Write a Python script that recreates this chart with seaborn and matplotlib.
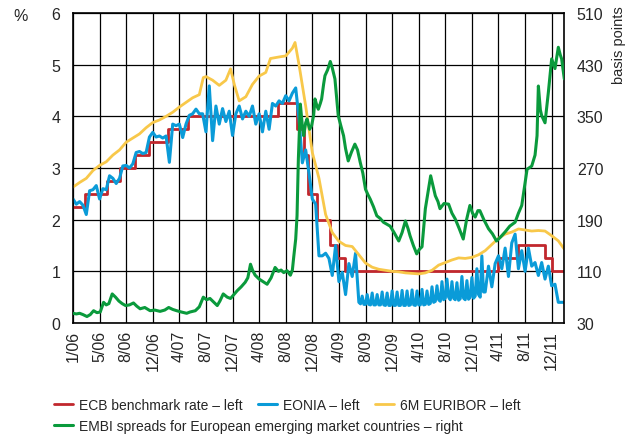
import numpy as np
import pandas as pd
import matplotlib
matplotlib.use("Agg")
import matplotlib.pyplot as plt
import seaborn as sns

# x = months since 1 Jan 2006
tick_labels = ["1/06", "5/06", "8/06", "12/06", "4/07", "8/07", "12/07", "4/08", "8/08",
               "12/08", "4/09", "8/09", "12/09", "4/10", "8/10", "12/10", "4/11", "8/11", "12/11"]

ecb_t = [0, 1.85, 5.1, 7.1, 9.4, 11.5, 14.3, 17.3, 30.8, 33.7, 34.7, 35.4, 36.7,
         38.7, 39.7, 40.9, 63.9, 67.0, 71.0, 72.0, 73.9]
ecb_rate = [2.25, 2.5, 2.75, 3.0, 3.25, 3.5, 3.75, 4.0, 4.25, 3.75, 3.25, 2.5, 2.0,
            1.5, 1.25, 1.0, 1.25, 1.5, 1.25, 1.0, 1.0]

# half-month readings until mid 2009, quarter-month in the low-rate period, then half-month
eonia_t = np.concatenate([np.arange(0, 43, 0.5), np.arange(43, 62, 0.25),
                          np.arange(62, 73.6, 0.5), [73.9]])
eonia = [2.40, 2.30, 2.35, 2.28, 2.10, 2.56, 2.58, 2.66, 2.40, 2.60,
         2.58, 2.85, 2.80, 2.70, 2.80, 3.04, 3.05, 3.00, 3.08, 3.30,
         3.32, 3.28, 3.30, 3.60, 3.69, 3.60, 3.62, 3.58, 3.62, 3.11,
         3.85, 3.82, 3.85, 3.59, 3.85, 4.02, 4.05, 4.14, 4.05, 4.05,
         3.70, 4.59, 3.53, 4.20, 3.85, 4.15, 3.90, 4.10, 3.63, 4.05,
         4.20, 3.95, 4.10, 4.00, 4.20, 3.85, 4.05, 3.70, 4.10, 3.75,
         4.25, 4.20, 4.30, 4.25, 4.40, 4.30, 4.45, 4.55, 3.95, 3.10,
         3.35, 2.90, 2.40, 2.30, 1.30, 1.30, 1.35, 1.25, 0.92, 1.50,
         0.80, 0.98, 0.55, 1.15, 0.90, 1.35,
         0.40, 0.37, 0.52, 0.36, 0.36, 0.55, 0.36, 0.35, 0.58, 0.35,
         0.35, 0.55, 0.35, 0.35, 0.60, 0.35, 0.34, 0.58, 0.34, 0.34,
         0.62, 0.34, 0.34, 0.60, 0.34, 0.34, 0.63, 0.34, 0.34, 0.62,
         0.34, 0.35, 0.64, 0.35, 0.34, 0.62, 0.35, 0.35, 0.65, 0.35,
         0.36, 0.62, 0.36, 0.38, 0.70, 0.40, 0.42, 0.72, 0.45, 0.42,
         0.80, 0.45, 0.48, 0.85, 0.50, 0.45, 0.80, 0.48, 0.45, 0.78,
         0.44, 0.47, 0.90, 0.48, 0.45, 0.82, 0.46, 0.50, 0.88, 0.48,
         0.52, 1.05, 0.55, 0.50, 1.30, 0.60,
         0.60, 1.10, 0.70, 1.15, 1.30, 1.05, 1.45, 0.90, 1.55, 1.72,
         1.05, 1.40, 1.00, 1.45, 1.10, 1.17, 0.92, 1.17, 0.85, 1.10,
         0.72, 0.75, 0.40, 0.40, 0.40]

euribor_t = [0, 1, 2, 3, 4, 5, 6, 7, 8, 9, 10, 11, 12, 13, 14, 15, 16, 17, 18, 19,
             19.6, 20, 21, 22, 23, 23.7, 24.3, 25, 26, 27, 28, 29, 29.7, 31, 32, 33, 33.4,
             34, 35, 36, 37, 38, 39, 40, 41, 42, 43, 44, 45, 46, 47, 48, 49, 50, 51,
             52, 53, 54, 55, 56, 57, 58, 59, 60, 61, 62, 63, 64, 65, 66, 67, 68, 69,
             70, 71, 72, 73, 73.9]
euribor = [2.63, 2.72, 2.80, 2.95, 3.05, 3.12, 3.25, 3.35, 3.50, 3.58, 3.66, 3.78, 3.88,
           3.93, 4.00, 4.08, 4.18, 4.27, 4.36, 4.42, 4.75, 4.77, 4.70, 4.60, 4.70, 4.92,
           4.60, 4.30, 4.38, 4.62, 4.78, 4.85, 5.12, 5.15, 5.17, 5.32, 5.43, 5.00, 4.20,
           3.30, 2.80, 2.10, 1.75, 1.58, 1.50, 1.48, 1.32, 1.16, 1.08, 1.04, 1.02, 1.00,
           0.99, 0.97, 0.96, 0.95, 0.97, 1.02, 1.12, 1.17, 1.22, 1.26, 1.25, 1.27, 1.32,
           1.40, 1.52, 1.64, 1.72, 1.76, 1.82, 1.80, 1.78, 1.79, 1.78, 1.69, 1.59, 1.43]

embi_t = [0, 0.5, 1, 1.5, 2.1, 2.6, 3.1, 3.6, 4.1, 4.6, 5.0, 5.4, 5.9, 6.4, 6.9, 7.4, 7.9,
          8.5, 9.1, 9.6, 10.1, 10.8, 11.6, 12.3, 13.1, 13.8, 14.4, 15.0, 15.6, 16.3, 17.1,
          17.6, 18.4, 19.0, 19.6, 20.1, 20.6, 21.2, 21.7, 22.1, 22.6, 23.2, 23.7, 24.2, 24.7,
          25.3, 25.9, 26.3, 26.7, 27.0, 27.4, 28.0, 28.6, 29.2, 29.8, 30.4, 30.9, 31.3, 31.7,
          32.2, 32.7, 33.0, 33.2, 33.5, 33.7, 33.9, 34.2, 34.5, 34.7, 35.0, 35.2, 35.6, 35.9,
          36.2, 36.4, 36.7, 36.9, 37.2, 37.4, 37.7, 37.9, 38.3, 38.7, 39.0, 39.4, 39.9, 40.3,
          40.7, 41.0, 41.4, 41.9, 42.4, 42.8, 43.2, 43.6, 44.0, 44.4, 44.7, 45.2, 45.7, 46.2,
          46.7, 47.2, 47.7, 48.3, 49.0, 49.5, 50.0, 50.4, 50.7, 51.2, 51.7, 52.1, 52.5, 53.0,
          53.4, 53.8, 54.1, 54.5, 54.9, 55.2, 55.8, 56.5, 57.0, 57.5, 58.1, 58.7, 59.2, 59.7,
          60.1, 60.5, 60.9, 61.2, 61.8, 62.5, 63.1, 63.7, 64.3, 65.0, 65.7, 66.5, 67.0, 67.5,
          67.9, 68.3, 69.0, 69.5, 69.8, 70.0, 70.3, 70.5, 71.0, 71.5, 72.0, 72.5, 73.0, 73.3,
          73.5, 73.9]
embi_bp = [45, 44, 45, 43, 40, 43, 49, 46, 47, 62, 58, 60, 75, 70, 64, 60, 57,
           58, 61, 56, 52, 54, 49, 50, 48, 50, 54, 51, 49, 47, 45,
           47, 49, 55, 70, 66, 68, 62, 57, 64, 75, 70, 68, 74, 80,
           86, 93, 100, 121, 112, 104, 98, 94, 90, 100, 116, 110, 112, 108,
           111, 104, 112, 132, 160, 196, 284, 369, 335, 320, 340, 346, 330, 336,
           352, 377, 366, 361, 370, 377, 400, 413, 422, 435, 425, 408, 351, 335,
           320, 300, 281, 295, 307, 298, 279, 262, 237, 228, 222, 210, 196, 192,
           186, 183, 180, 170, 157, 170, 188, 176, 165, 150, 137, 144, 148, 207,
           232, 258, 245, 227, 218, 207, 215, 214, 200, 191, 176, 160, 190, 212,
           200, 194, 204, 204, 190, 176, 168, 157, 163, 171, 180, 186, 200, 212,
           240, 268, 273, 290, 320, 397, 360, 351, 340, 387, 439, 424, 457, 445,
           439, 408]

red = "#c1272d"
blue = "#0a9bd8"
yellow = "#f8c84a"
green = "#0a9a3c"

sns.set_theme(style="white")
plt.rcParams["font.family"] = ["Liberation Sans", "DejaVu Sans"]

fig = plt.figure(figsize=(6.27, 4.39), dpi=100)
ax = fig.add_axes([0.1164, 0.262, 0.7836, 0.706])

sns.lineplot(x=ecb_t, y=ecb_rate, ax=ax, color=red, lw=2.0, drawstyle="steps-post",
             estimator=None, label="ECB benchmark rate – left", legend=False)
sns.lineplot(x=eonia_t, y=eonia, ax=ax, color=blue, lw=2.2, estimator=None,
             label="EONIA – left", legend=False)
sns.lineplot(x=euribor_t, y=euribor, ax=ax, color=yellow, lw=2.0, estimator=None,
             label="6M EURIBOR – left", legend=False)

ax.set_xlim(0, 73.9)
ax.set_ylim(0, 6)
ax.set_xticks(np.arange(0, 76, 4))
ax.set_xticklabels(tick_labels, rotation=90, fontsize=11.5)
ax.set_yticks(range(7))
ax.set_yticklabels([str(i) for i in range(7)], fontsize=11.5)
ax.tick_params(length=0, pad=9)
ax.tick_params(axis="x", pad=5)
ax.grid(True, color="black", lw=0.9)
for s in ax.spines.values():
    s.set_color("black")
    s.set_linewidth(1.2)

ax2 = ax.twinx()
sns.lineplot(x=embi_t, y=embi_bp, ax=ax2, color=green, lw=2.2, estimator=None,
             label="EMBI spreads for European emerging market countries – right", legend=False)
ax2.set_ylim(30, 510)
ax2.set_yticks(range(30, 511, 80))
ax2.set_yticklabels([str(v) for v in range(30, 511, 80)], fontsize=11.5)
ax2.tick_params(length=0, pad=9)
ax2.grid(False)
for s in ax2.spines.values():
    s.set_visible(False)

fig.text(0.022, 0.962, "%", fontsize=11.5, ha="left", va="center")
fig.text(0.987, 0.897, "basis points", fontsize=10.5, rotation=90, ha="center", va="center")

h1, l1 = ax.get_legend_handles_labels()
h2, l2 = ax2.get_legend_handles_labels()
fig.legend(h1, l1, loc="upper left", bbox_to_anchor=(0.086, 0.092), ncol=3,
           frameon=False, fontsize=10, handlelength=1.4, handletextpad=0.4,
           columnspacing=1.1, borderaxespad=0, borderpad=0)
fig.legend(h2, l2, loc="upper left", bbox_to_anchor=(0.086, 0.044), frameon=False,
           fontsize=10, handlelength=1.4, handletextpad=0.4, borderaxespad=0, borderpad=0)

fig.savefig("out.png", dpi=100)
